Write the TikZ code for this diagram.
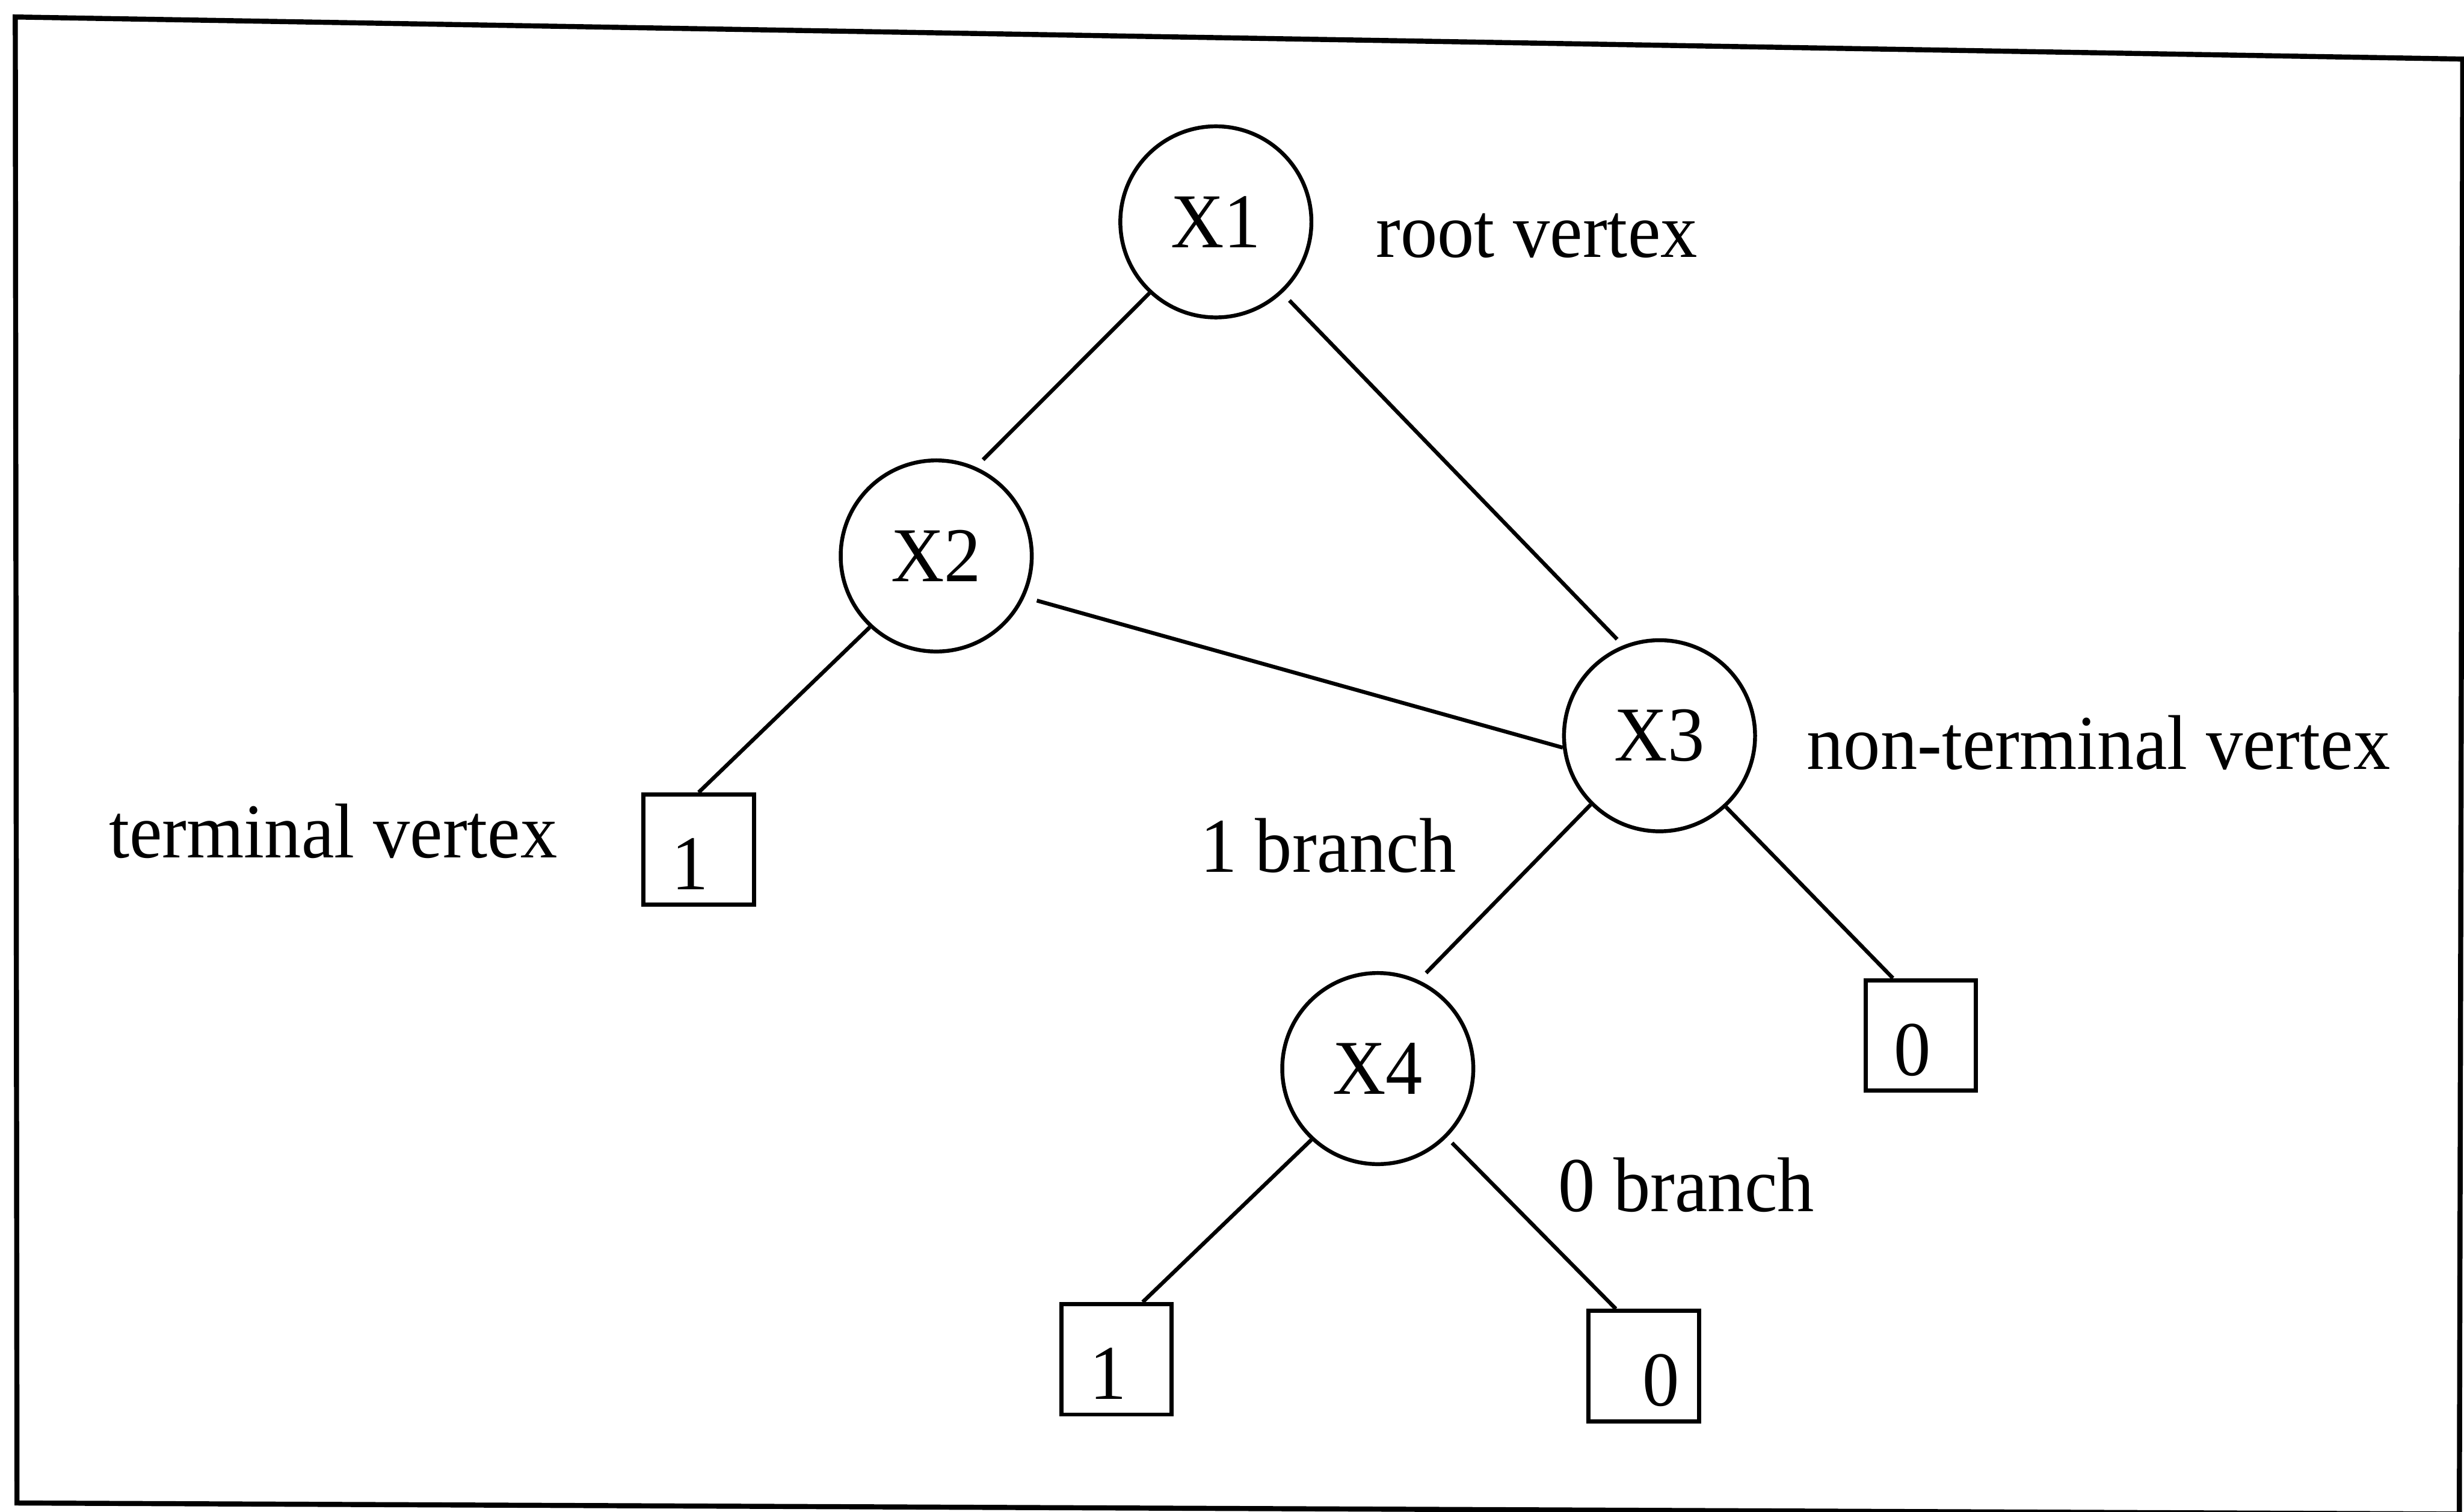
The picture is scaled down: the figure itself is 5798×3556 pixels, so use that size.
\documentclass[tikz,border=0pt]{standalone}
\usepackage{fontspec}
\setmainfont[FakeStretch=0.95]{Liberation Serif}
\begin{document}
\begin{tikzpicture}[x=0.005cm,y=-0.005cm,
  txt/.style={font=\fontsize{26pt}{31pt}\selectfont},
  vtx/.style={txt,circle,draw,line width=1.3pt,minimum size=2.25cm,inner sep=0pt},
  leaf/.style={txt,rectangle,draw,line width=1.4pt,minimum size=1.30cm,inner sep=0pt,
    text height=0.97cm,text depth=0.03cm},
  edge/.style={line width=1.3pt},
  lbl/.style={txt,inner sep=0pt,anchor=base},
  frame/.style={line width=1.7pt,line join=miter}]
\useasboundingbox (0,0) rectangle (5798,3556);

% outer frame
\draw[frame] (36,40) -- (5795,139) -- (5787,3562) -- (40,3536) -- cycle;

% non-terminal vertices
\node[vtx] (x1) at (2861,522) {X1};
\node[vtx] (x2) at (2203,1308) {X2};
\node[vtx] (x3) at (3905,1731) {X3};
\node[vtx] (x4) at (3242,2514) {X4};

% terminal vertices
\node[leaf] (bl1) at (1644,1999) {\hspace*{-2mm}1};
\node[leaf] (br0) at (4520,2436) {\hspace*{-2mm}0};
\node[leaf] (bb1) at (2627,3198) {\hspace*{-2mm}1};
\node[leaf] (bb0) at (3868,3214) {\hspace*{4mm}0};

% branches
\draw[edge,shorten >=0.12cm] (x1.227) -- (x2.66);
\draw[edge,shorten <=0.12cm,shorten >=0.1cm] (x1.-47) -- (x3.112);
\draw[edge,shorten <=0.15cm] (x2.-25) -- (x3.187);
\draw[edge] (x2.227) -- (bl1.north);
\draw[edge,shorten >=0.12cm] (x3.225) -- (x4.65);
\draw[edge] (x3.313) -- ([xshift=-0.33cm]br0.north);
\draw[edge] (x4.227) -- ([xshift=0.31cm]bb1.north);
\draw[edge,shorten <=0.09cm] (x4.-45) -- ([xshift=-0.33cm]bb0.north);

% annotations
\node[lbl] (lroot) at (3616,605) {root vertex};
\node[lbl] (lterm) at (784,2018) {terminal vertex};
\node[lbl] (lnonterm) at (4938,1810) {non-terminal vertex};
\node[lbl] (lone) at (3125,2052) {1 branch};
\node[lbl] (lzero) at (3968,2850) {0 branch};
\end{tikzpicture}
\end{document}
